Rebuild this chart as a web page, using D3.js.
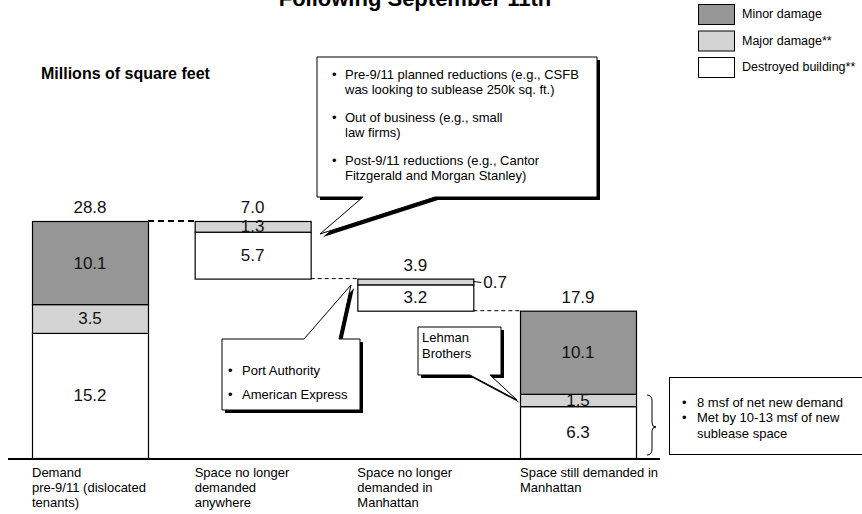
<!DOCTYPE html>
<html lang="en">
<head>
<meta charset="UTF-8">
<title>Office space demand</title>
<script src="https://d3js.org/d3.v7.min.js"></script>
<style>
  body { margin: 0; background: #fff; }
  svg { display: block; font-family: Arial, "Liberation Sans", sans-serif; }
</style>
</head>
<body>
<svg id="chart" width="862" height="514"></svg>
<script>
// Chart data
const categories = ["demand", "gone", "left", "still"];
const categoryLabels = [
    ["Demand", "pre-9/11 (dislocated", "tenants)"],
    ["Space no longer", "demanded", "anywhere"],
    ["Space no longer", "demanded in", "Manhattan"],
    ["Space still demanded in", "Manhattan"]
];
const barKind = ["total", "decrease", "decrease", "total"];
const destroyed = [15.2, 5.7, 3.2, 6.3];
const major = [3.5, 1.3, 0.7, 1.5];
const minor = [10.1, 0, 0, 10.1];
const totals = [28.8, 7.0, 3.9, 17.9];

const seriesNames = ["Minor damage", "Major damage**", "Destroyed building**"];
const seriesColors = ["#969696", "#d4d4d4", "#ffffff"];

const calloutTop = [
    ["Pre-9/11 planned reductions (e.g., CSFB", "was looking to sublease 250k sq. ft.)"],
    ["Out of business (e.g., small", "law firms)"],
    ["Post-9/11 reductions (e.g., Cantor", "Fitzgerald and Morgan Stanley)"]
];
const calloutPort = ["Port Authority", "American Express"];
const calloutLehman = ["Lehman", "Brothers"];
const noteLines = [["8 msf of net new demand"], ["Met by 10-13 msf of new", "sublease space"]];

const svg = d3.select("#chart");

const x = d3.scaleBand().domain(categories).range([32, 636]).paddingInner(0.287).paddingOuter(0);
const y = d3.scaleLinear().domain([0, d3.max(totals)]).range([458, 221]);

// waterfall bases: totals start at 0, decreases hang from the previous level
let level = 0;
const bars = categories.map((c, i) => {
    let base;
    if (barKind[i] === "total") { base = 0; level = totals[i]; }
    else { level = level - totals[i]; base = level; }
    const segs = [];
    let acc = base;
    [destroyed[i], major[i], minor[i]].forEach((v, k) => {
        if (v > 0) segs.push({key: k, y0: acc, y1: acc + v, v: v});
        acc += v;
    });
    return {cat: c, i: i, base: base, top: base + totals[i], segs: segs};
});

// title (cut at top of the slide)
svg.append("text").attr("x", 415).attr("y", 6).attr("text-anchor", "middle")
    .attr("font-size", 22).attr("font-weight", "bold").text("Following September 11th");

svg.append("text").attr("x", 41).attr("y", 79)
    .attr("font-size", 16).attr("font-weight", "bold").text("Millions of square feet");

// legend
const colorIdx = [2, 1, 0]; // segment key -> color index
const legend = svg.append("g");
seriesNames.forEach((n, i) => {
    const ly = 4 + i * 26.5;
    legend.append("rect").attr("x", 698.5).attr("y", ly + 0.5).attr("width", 36).attr("height", 20)
        .attr("fill", seriesColors[i]).attr("stroke", "#000").attr("stroke-width", 1);
    legend.append("text").attr("x", 742).attr("y", ly + 10).attr("dy", "0.35em")
        .attr("font-size", 12.5).text(n);
});

// dashed connectors
bars.slice(0, -1).forEach((b, i) => {
    const next = bars[i + 1];
    const ly = y(next.top);
    svg.append("line")
        .attr("x1", x(b.cat) + x.bandwidth()).attr("x2", x(next.cat))
        .attr("y1", ly).attr("y2", ly)
        .attr("stroke", "#000").attr("stroke-width", i === 0 ? 2 : 1)
        .attr("stroke-dasharray", i === 0 ? "6,4" : "4,3");
});

// bars
const bg = svg.append("g");
bars.forEach(b => {
    b.segs.forEach(s => {
        bg.append("rect")
            .attr("x", x(b.cat) + 0.5).attr("width", x.bandwidth())
            .attr("y", y(s.y1) + 0.5).attr("height", y(s.y0) - y(s.y1))
            .attr("fill", seriesColors[colorIdx[s.key]])
            .attr("stroke", "#000").attr("stroke-width", 1.2);
    });
});
bars.forEach(b => {
    b.segs.forEach(s => {
        const cx = x(b.cat) + x.bandwidth() / 2;
        const cy = (y(s.y0) + y(s.y1)) / 2;
        if (b.i === 2 && s.key === 1) {
            const rx = x(b.cat) + x.bandwidth();
            bg.append("line").attr("x1", rx).attr("x2", rx + 8).attr("y1", cy).attr("y2", cy + 1)
                .attr("stroke", "#000").attr("stroke-width", 1);
            bg.append("text").attr("x", rx + 10).attr("y", cy + 1).attr("dy", "0.35em")
                .attr("font-size", 17).attr("fill", "#111").text(d3.format(".1f")(s.v));
        } else {
            bg.append("text").attr("x", cx).attr("y", cy).attr("dy", "0.35em")
                .attr("text-anchor", "middle").attr("font-size", 17).attr("fill", "#111")
                .text(d3.format(".1f")(s.v));
        }
    });
    bg.append("text").attr("x", x(b.cat) + x.bandwidth() / 2).attr("y", y(b.top) - 8)
        .attr("text-anchor", "middle").attr("font-size", 17).attr("fill", "#111")
        .text(d3.format(".1f")(totals[b.i]));
});

// baseline
svg.append("line").attr("x1", 8).attr("x2", 660).attr("y1", y(0) + 1).attr("y2", y(0) + 1)
    .attr("stroke", "#000").attr("stroke-width", 2.2);

// category labels
categoryLabels.forEach((lines, i) => {
    const t = svg.append("text").attr("x", x(categories[i])).attr("y", 477).attr("font-size", 13);
    lines.forEach((l, k) => t.append("tspan").attr("x", x(categories[i])).attr("dy", k ? 15 : 0).text(l));
});

// callout helper: box with pointer, shadow offset (3,3)
function callout(pts) {
    const g = svg.append("g");
    const line = d3.line();
    g.append("path").attr("d", line(pts) + "Z").attr("transform", "translate(3,3)").attr("fill", "#000");
    g.append("path").attr("d", line(pts) + "Z").attr("fill", "#fff").attr("stroke", "#000").attr("stroke-width", 1);
    return g;
}

// top callout
const gTop = callout([[317, 57], [597, 57], [597, 197], [435, 197], [320, 234], [363, 197], [317, 197]]);
let ty = 74;
calloutTop.forEach((para, p) => {
    para.forEach((l, k) => {
        if (k === 0) gTop.append("text").attr("x", 332).attr("y", ty).attr("dy", "0.35em").attr("font-size", 13).text("•");
        gTop.append("text").attr("x", 345).attr("y", ty).attr("dy", "0.35em").attr("font-size", 13).text(l);
        ty += 15;
    });
    ty += 13;
});

// Port Authority callout
const gPort = callout([[222, 339], [304, 339], [351, 285], [339, 339], [360, 339], [360, 410], [222, 410]]);
calloutPort.forEach((l, k) => {
    gPort.append("text").attr("x", 228).attr("y", 370 + k * 24).attr("dy", "0.35em").attr("font-size", 13).text("•");
    gPort.append("text").attr("x", 242).attr("y", 370 + k * 24).attr("dy", "0.35em").attr("font-size", 13).text(l);
});

// Lehman callout
const gLeh = callout([[418, 327], [501, 327], [501, 375], [490, 375], [517, 400], [470, 375], [418, 375]]);
calloutLehman.forEach((l, k) => {
    gLeh.append("text").attr("x", 422).attr("y", 337 + k * 16).attr("dy", "0.35em").attr("font-size", 13).text(l);
});

// brace
const bx = 647, bt = 395, bb = 455, bm = 427;
svg.append("path")
    .attr("d", `M${bx},${bt} Q${bx + 5},${bt} ${bx + 5},${bt + 6} L${bx + 5},${bm - 4} Q${bx + 5},${bm} ${bx + 9},${bm} Q${bx + 5},${bm} ${bx + 5},${bm + 4} L${bx + 5},${bb - 6} Q${bx + 5},${bb} ${bx},${bb}`)
    .attr("fill", "none").attr("stroke", "#000").attr("stroke-width", 1);

// note box
svg.append("rect").attr("x", 669.5).attr("y", 377.5).attr("width", 200).attr("height", 77)
    .attr("fill", "#fff").attr("stroke", "#000").attr("stroke-width", 1);
let ny = 402;
noteLines.forEach(para => {
    para.forEach((l, k) => {
        if (k === 0) svg.append("text").attr("x", 682).attr("y", ny).attr("dy", "0.35em").attr("font-size", 13).text("•");
        svg.append("text").attr("x", 697).attr("y", ny).attr("dy", "0.35em").attr("font-size", 13).text(l);
        ny += 15.5;
    });
});
</script>
</body>
</html>
